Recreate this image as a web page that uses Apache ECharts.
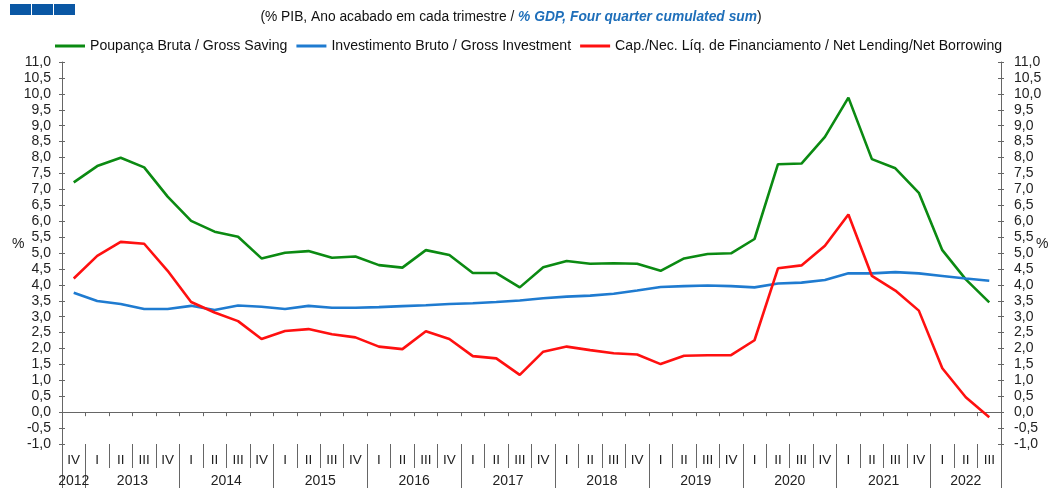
<!DOCTYPE html>
<html>
<head>
<meta charset="utf-8">
<script src="https://cdn.jsdelivr.net/npm/echarts@6/dist/echarts.min.js"></script>
<style>
    html, body { margin: 0; padding: 0; background: #fff; }
    #chart { width: 1048px; height: 488px; }
</style>
</head>
<body>
<div id="chart"></div>
<script>
// quarters from 2012 IV to 2022 III
const quarters = ["IV",
    "I", "II", "III", "IV", "I", "II", "III", "IV", "I", "II", "III", "IV",
    "I", "II", "III", "IV", "I", "II", "III", "IV", "I", "II", "III", "IV",
    "I", "II", "III", "IV", "I", "II", "III", "IV", "I", "II", "III", "IV",
    "I", "II", "III"];
const years = ["2012", "2013", "2014", "2015", "2016", "2017", "2018", "2019", "2020", "2021", "2022"];
const yearStart = [0, 1, 5, 9, 13, 17, 21, 25, 29, 33, 37, 40];

const saving = [7.22, 7.73, 7.99, 7.69, 6.77, 6.01, 5.67, 5.51, 4.83, 5.01, 5.06, 4.85, 4.89,
    4.62, 4.54, 5.09, 4.94, 4.37, 4.37, 3.92, 4.55, 4.75, 4.66, 4.68, 4.66, 4.44, 4.83, 4.97,
    4.99, 5.44, 7.79, 7.81, 8.65, 9.88, 7.95, 7.66, 6.89, 5.09, 4.17, 3.45];
const investment = [3.75, 3.49, 3.40, 3.24, 3.24, 3.34, 3.21, 3.35, 3.31, 3.24, 3.34, 3.28, 3.28,
    3.30, 3.33, 3.36, 3.40, 3.42, 3.46, 3.51, 3.58, 3.63, 3.66, 3.72, 3.82, 3.93, 3.96, 3.98,
    3.96, 3.92, 4.04, 4.07, 4.15, 4.36, 4.36, 4.40, 4.36, 4.28, 4.20, 4.13];
const netLending = [4.20, 4.91, 5.35, 5.29, 4.44, 3.46, 3.13, 2.86, 2.30, 2.55, 2.61, 2.45, 2.35,
    2.06, 1.98, 2.54, 2.30, 1.76, 1.69, 1.17, 1.90, 2.06, 1.95, 1.85, 1.81, 1.51, 1.77, 1.79,
    1.79, 2.26, 4.52, 4.61, 5.23, 6.21, 4.28, 3.82, 3.19, 1.38, 0.47, -0.16];

const seriesNames = [
    "Poupança Bruta / Gross Saving",
    "Investimento Bruto / Gross Investment",
    "Cap./Nec. Líq. de Financiamento / Net Lending/Net Borrowing"
];

const FONT = "Liberation Sans";
const AXIS = "#666";

// year label sits in the middle of each year block
const yearMid = years.map((y, i) => (yearStart[i] + yearStart[i + 1]) / 2);

const chart = echarts.init(document.getElementById("chart"));

const fmt = (v) => v.toFixed(1).replace(".", ",");

const yBase = (pos, inside, labels) => ({
    type: "value",
    position: pos,
    min: -1,
    max: 11,
    interval: 0.5,
    offset: 0,
    axisLine: { show: labels, onZero: false, lineStyle: { color: AXIS, width: 1 } },
    axisTick: { show: true, inside: inside, length: 3, lineStyle: { color: AXIS } },
    axisLabel: {
        show: labels,
        formatter: fmt,
        margin: pos === "left" ? 11 : 13,
        color: "#222",
        fontFamily: FONT,
        fontSize: 14,
    },
    splitLine: { show: false },
});

let options = {
    animation: false,
    textStyle: { fontFamily: FONT },
    title: {
        left: 506,
        top: 5,
        textAlign: "center",
        text: "{a|(% PIB, Ano acabado em cada trimestre / }{b|% GDP, Four quarter cumulated sum}{a|)}",
        textStyle: {
            fontWeight: "normal",
            rich: {
                a: { fontFamily: FONT, fontSize: 13.8, color: "#111", fontWeight: "normal" },
                b: { fontFamily: FONT, fontSize: 13.8, color: "#1f6fba", fontStyle: "italic", fontWeight: "bold" },
            },
        },
    },
    legend: {
        left: 50,
        top: 34,
        itemGap: 9,
        itemWidth: 30,
        itemHeight: 3,
        icon: "rect",
        textStyle: { fontFamily: FONT, fontSize: 14.1, color: "#111" },
        data: seriesNames,
    },
    grid: {
        left: 62,
        right: 47,
        top: 62,
        bottom: 44,
    },
    graphic: [
        { type: "rect", shape: { x: 10, y: 4, width: 21, height: 11 }, style: { fill: "#0a57a4" } },
        { type: "rect", shape: { x: 32, y: 4, width: 21, height: 11 }, style: { fill: "#0a57a4" } },
        { type: "rect", shape: { x: 54, y: 4, width: 21, height: 11 }, style: { fill: "#0a57a4" } },
        { type: "text", left: 12, top: 237, style: { text: "%", fontFamily: FONT, fontSize: 14, fill: "#222" } },
        { type: "text", left: 1036, top: 237, style: { text: "%", fontFamily: FONT, fontSize: 14, fill: "#222" } },
    ],
    xAxis: [
        {
            // zero line with small ticks
            type: "category",
            data: quarters,
            position: "bottom",
            axisLine: { onZero: true, lineStyle: { color: AXIS, width: 1 } },
            axisTick: { show: true, interval: 0, length: 4, lineStyle: { color: AXIS } },
            axisLabel: { show: false },
        },
        {
            // quarter labels below the plot
            type: "category",
            data: quarters,
            position: "bottom",
            offset: 0,
            axisLine: { show: false, onZero: false },
            axisTick: { show: true, interval: 0, length: 24, lineStyle: { color: AXIS } },
            axisLabel: { interval: 0, margin: 9, color: "#222", fontFamily: FONT, fontSize: 13.5 },
        },
        {
            // year labels and long separators
            type: "value",
            min: 0,
            max: 40,
            position: "bottom",
            offset: 0,
            axisLine: { show: false, onZero: false },
            axisTick: { show: true, length: 44, customValues: yearStart, lineStyle: { color: AXIS } },
            axisLabel: {
                customValues: yearMid,
                formatter: (v) => years[yearMid.indexOf(v)] || "",
                margin: 30,
                color: "#222",
                fontFamily: FONT,
                fontSize: 14,
            },
            splitLine: { show: false },
        },
    ],
    yAxis: [
        yBase("left", false, true),
        yBase("right", false, true),
        yBase("left", true, false),
        yBase("right", true, false),
    ],
    series: [
        {
            name: seriesNames[0],
            type: "line",
            data: saving,
            symbol: "none",
            color: "#0b8a12",
            lineStyle: { width: 2.6, color: "#0b8a12" },
        },
        {
            name: seriesNames[1],
            type: "line",
            data: investment,
            symbol: "none",
            color: "#1f7bd0",
            lineStyle: { width: 2.6, color: "#1f7bd0" },
        },
        {
            name: seriesNames[2],
            type: "line",
            data: netLending,
            symbol: "none",
            color: "#ff1010",
            lineStyle: { width: 2.6, color: "#ff1010" },
        },
    ],
};

chart.setOption(options);
</script>
</body>
</html>
